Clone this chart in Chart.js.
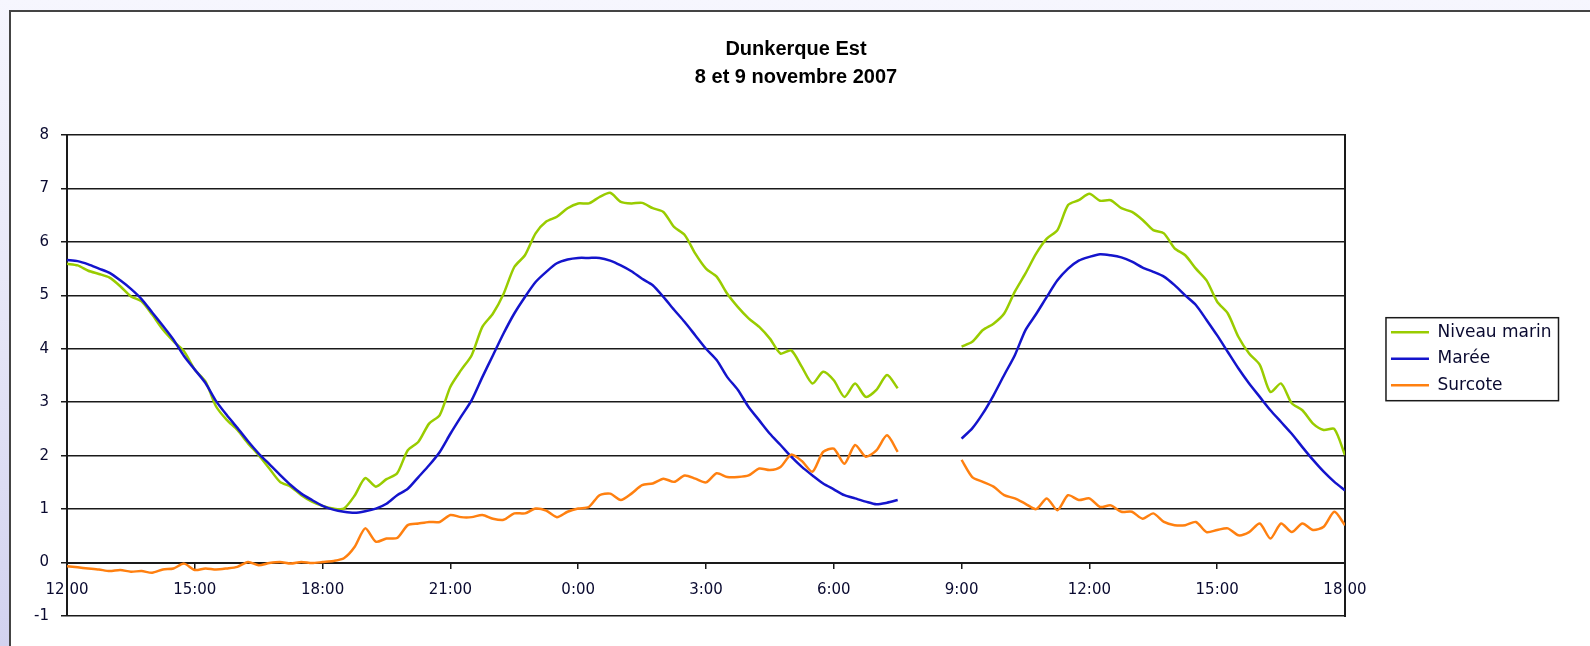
<!DOCTYPE html>
<html lang="fr">
<head>
<meta charset="utf-8">
<title>Dunkerque Est - 8 et 9 novembre 2007</title>
<script src="https://cdn.jsdelivr.net/npm/chart.js@4.4.1/dist/chart.umd.min.js"></script>
<style>
  html, body { margin: 0; padding: 0; width: 1590px; height: 646px; overflow: hidden; }
  body { position: relative; background: linear-gradient(to bottom, #f6f6fe 0%, #e4e4f6 55%, #d2d2ef 100%); }
  .panel { position: absolute; left: 9px; top: 10px; right: 0; bottom: 0; background: #fff;
           border-left: 2px solid #444; border-top: 2px solid #444; }
  #chart { position: absolute; left: 0; top: 0; }
</style>
</head>
<body>
<div class="panel"></div>
<canvas id="chart" width="1590" height="646"></canvas>
<script>
// water levels every 15 min, from 12:00 on the 8th to 18:00 on the 9th
const startHour = 12;
const stepMinutes = 15;

const titleLines = ["Dunkerque Est", "8 et 9 novembre 2007"];
const seriesNames = ["Niveau marin", "Marée", "Surcote"];

const niveauMarin = [
  5.59, 5.56, 5.46, 5.40, 5.33, 5.17, 4.98, 4.89, 4.64, 4.36, 4.14, 3.95,   // 12:00
  3.61, 3.39, 2.92, 2.67, 2.48, 2.23, 2.01, 1.76, 1.51, 1.42, 1.26, 1.14,   // 15:00
  1.06, 1.01, 1.01, 1.25, 1.58, 1.42, 1.56, 1.67, 2.10, 2.26, 2.60, 2.76,   // 18:00
  3.29, 3.60, 3.88, 4.41, 4.66, 5.03, 5.53, 5.75, 6.16, 6.38, 6.47, 6.63,   // 21:00
  6.72, 6.72, 6.84, 6.92, 6.75, 6.72, 6.73, 6.63, 6.56, 6.28, 6.13, 5.78,   // 0:00
  5.50, 5.35, 5.03, 4.78, 4.57, 4.41, 4.19, 3.91, 3.97, 3.66, 3.35, 3.57,   // 3:00
  3.41, 3.10, 3.35, 3.10, 3.23, 3.51, 3.26, null, null, null, null, null,   // 6:00
  4.04, 4.13, 4.35, 4.47, 4.66, 5.07, 5.41, 5.78, 6.06, 6.22, 6.69, 6.78,   // 9:00
  6.90, 6.77, 6.78, 6.63, 6.56, 6.41, 6.22, 6.16, 5.88, 5.75, 5.50, 5.28,   // 12:00
  4.88, 4.66, 4.22, 3.91, 3.70, 3.19, 3.35, 2.98, 2.85, 2.60, 2.48, 2.50,   // 15:00
  2.01                                                                      // 18:00
];

const maree = [
  5.66, 5.64, 5.58, 5.50, 5.42, 5.28, 5.12, 4.93, 4.68, 4.43, 4.17, 3.86,
  3.61, 3.36, 3.02, 2.76, 2.52, 2.27, 2.04, 1.84, 1.64, 1.45, 1.29, 1.17,
  1.06, 0.99, 0.95, 0.93, 0.96, 1.01, 1.10, 1.26, 1.38, 1.60, 1.82, 2.07,
  2.41, 2.73, 3.04, 3.47, 3.88, 4.29, 4.66, 4.97, 5.25, 5.44, 5.60, 5.67,
  5.70, 5.70, 5.70, 5.65, 5.56, 5.45, 5.31, 5.19, 4.97, 4.73, 4.50, 4.25,
  4.00, 3.79, 3.47, 3.23, 2.91, 2.66, 2.41, 2.20, 1.98, 1.79, 1.63, 1.48,
  1.37, 1.26, 1.20, 1.14, 1.09, 1.12, 1.17, null, null, null, null, null,
  2.32, 2.51, 2.79, 3.13, 3.51, 3.88, 4.35, 4.65, 4.97, 5.28, 5.50, 5.65,
  5.72, 5.77, 5.75, 5.71, 5.63, 5.52, 5.44, 5.35, 5.19, 5.00, 4.82, 4.54,
  4.25, 3.94, 3.63, 3.35, 3.10, 2.85, 2.63, 2.41, 2.16, 1.92, 1.70, 1.51,
  1.35
];

const surcote = [
  -0.07, -0.09, -0.11, -0.13, -0.16, -0.14, -0.17, -0.16, -0.19, -0.13, -0.11, -0.02,
  -0.14, -0.11, -0.13, -0.11, -0.08, 0.01, -0.05, -0.01, 0.01, -0.02, 0.01, -0.01,
  0.01, 0.03, 0.08, 0.29, 0.64, 0.39, 0.45, 0.46, 0.70, 0.73, 0.76, 0.76,
  0.89, 0.85, 0.85, 0.89, 0.82, 0.80, 0.92, 0.92, 1.01, 0.97, 0.85, 0.95,
  1.01, 1.04, 1.26, 1.29, 1.17, 1.29, 1.45, 1.48, 1.57, 1.51, 1.63, 1.57,
  1.50, 1.67, 1.60, 1.60, 1.63, 1.76, 1.73, 1.79, 2.02, 1.90, 1.70, 2.07,
  2.13, 1.85, 2.20, 1.98, 2.10, 2.38, 2.07, null, null, null, null, null,
  1.92, 1.60, 1.51, 1.42, 1.26, 1.20, 1.10, 1.00, 1.20, 0.98, 1.26, 1.17,
  1.20, 1.04, 1.07, 0.95, 0.95, 0.82, 0.92, 0.76, 0.70, 0.70, 0.76, 0.57,
  0.61, 0.64, 0.51, 0.57, 0.73, 0.45, 0.73, 0.57, 0.73, 0.61, 0.67, 0.95,
  0.70
];

const colors = ["#99cc00", "#1414cc", "#ff8010"];
const inkColor = "#0a0a30";
const frameColor = "#1a1a1a";

// hours since 12:00 for each sample
const hours = niveauMarin.map((_, i) => i * stepMinutes / 60);
const toPoints = (values) => hours.map((h, i) => ({ x: h, y: values[i] }));

// thin frame round the legend, like the original
const legendFrame = {
  id: "legendFrame",
  afterDraw(chart) {
    const boxes = chart.legend && chart.legend.legendHitBoxes;
    if (!boxes || !boxes.length) return;
    const left = Math.min(...boxes.map(b => b.left)) - 5;
    const right = Math.max(...boxes.map(b => b.left + b.width)) + 7;
    const top = Math.min(...boxes.map(b => b.top)) - 6;
    const bottom = Math.max(...boxes.map(b => b.top + b.height)) + 7;
    const ctx = chart.ctx;
    ctx.save();
    ctx.strokeStyle = frameColor;
    ctx.lineWidth = 1.5;
    ctx.strokeRect(left, top, right - left, bottom - top);
    ctx.restore();
  }
};

const tickFont = { family: "'DejaVu Sans', sans-serif", size: 15 };

new Chart(document.getElementById("chart"), {
  type: "line",
  data: {
    datasets: [
      { label: seriesNames[0], data: toPoints(niveauMarin), borderColor: colors[0], order: 2 },
      { label: seriesNames[1], data: toPoints(maree), borderColor: colors[1], order: 1 },
      { label: seriesNames[2], data: toPoints(surcote), borderColor: colors[2], order: 0 }
    ]
  },
  options: {
    responsive: false,
    animation: false,
    datasets: {
      line: { borderWidth: 2.5, pointRadius: 0, tension: 0.25, fill: false, spanGaps: false, borderJoinStyle: "round" }
    },
    layout: { padding: { left: 30.5, right: 28.5, top: 0, bottom: 30 } },
    plugins: {
      title: {
        display: true,
        text: titleLines,
        color: "#000",
        font: { family: "'Liberation Sans', Arial, sans-serif", size: 20, weight: "bold", lineHeight: 28 / 20 },
        padding: { top: 35, bottom: 44 }
      },
      legend: {
        position: "right",
        align: "start",
        fullSize: false,
        title: { display: true, text: " ", font: { size: 1 }, padding: { top: 178, bottom: 0 } },
        labels: {
          sort: (a, b) => a.datasetIndex - b.datasetIndex,
          usePointStyle: true,
          pointStyle: "line",
          pointStyleWidth: 38,
          padding: 9.5,
          color: inkColor,
          font: { family: "'DejaVu Sans', sans-serif", size: 17 }
        }
      },
      tooltip: { enabled: false }
    },
    scales: {
      x: {
        type: "linear",
        min: 0,
        max: 30,
        position: { y: 0 },
        afterFit: (scale) => { scale.height = 0; },
        ticks: {
          stepSize: 3,
          autoSkip: false,
          maxRotation: 0,
          padding: 14,
          color: inkColor,
          font: tickFont,
          callback: (v) => ((startHour + v) % 24) + ":00"
        },
        grid: { drawOnChartArea: false, tickLength: 5, color: frameColor, lineWidth: 1.5 },
        border: { color: frameColor, width: 2 }
      },
      y: {
        min: -1,
        max: 8,
        afterFit: (scale) => { scale.width = 36.5; },
        ticks: { stepSize: 1, padding: 12, color: inkColor, font: tickFont },
        grid: { color: frameColor, lineWidth: 1.5, tickLength: 6 },
        border: { color: frameColor, width: 2 }
      },
      y2: {
        position: "right",
        min: -1,
        max: 8,
        afterFit: (scale) => { scale.width = 36.5; },
        ticks: { display: false },
        grid: { drawOnChartArea: false, drawTicks: false },
        border: { color: frameColor, width: 2 }
      }
    }
  },
  plugins: [legendFrame]
});
</script>
</body>
</html>
